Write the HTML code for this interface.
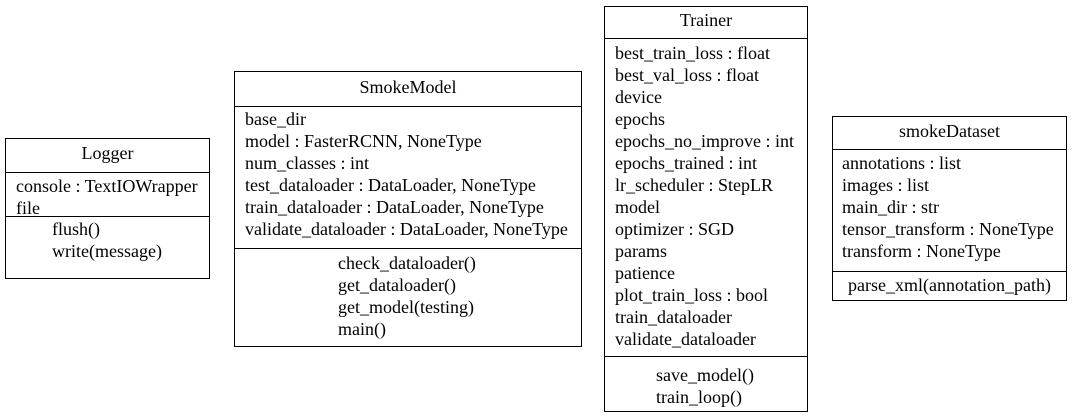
<!DOCTYPE html><html><head><style>
body{margin:0;width:1072px;height:418px;background:#fff;position:relative;font-family:"Liberation Serif","DejaVu Serif",serif;font-size:18px;color:#000;overflow:hidden}
.b{position:absolute;border:1px solid #000;box-sizing:border-box}
.h{position:absolute;height:1px;background:#000}
.t{position:absolute;height:22px;line-height:22px;white-space:nowrap;margin-top:-2px}
.c{text-align:center}
</style></head><body>
<!-- Logger -->
<div class="b" style="left:5px;top:138px;width:205px;height:141px"></div>
<div class="h" style="left:5px;top:172px;width:205px"></div>
<div class="h" style="left:5px;top:216px;width:205px"></div>
<div class="t c" style="left:5px;width:205px;top:144px">Logger</div>
<div class="t" style="left:16px;top:177px">console : TextIOWrapper</div>
<div class="t" style="left:16px;top:199px">file</div>
<div class="t" style="left:52px;top:220px">flush()</div>
<div class="t" style="left:52px;top:242px">write(message)</div>
<!-- SmokeModel -->
<div class="b" style="left:234px;top:71px;width:348px;height:276px"></div>
<div class="h" style="left:234px;top:106px;width:348px"></div>
<div class="h" style="left:234px;top:248px;width:348px"></div>
<div class="t c" style="left:234px;width:348px;top:78px">SmokeModel</div>
<div class="t" style="left:245px;top:110px">base_dir</div>
<div class="t" style="left:245px;top:132px">model : FasterRCNN, NoneType</div>
<div class="t" style="left:245px;top:154px">num_classes : int</div>
<div class="t" style="left:245px;top:176px">test_dataloader : DataLoader, NoneType</div>
<div class="t" style="left:245px;top:198px">train_dataloader : DataLoader, NoneType</div>
<div class="t" style="left:245px;top:220px">validate_dataloader : DataLoader, NoneType</div>
<div class="t" style="left:338px;top:254px">check_dataloader()</div>
<div class="t" style="left:338px;top:276px">get_dataloader()</div>
<div class="t" style="left:338px;top:298px">get_model(testing)</div>
<div class="t" style="left:338px;top:320px">main()</div>
<!-- Trainer -->
<div class="b" style="left:604px;top:6px;width:204px;height:406px"></div>
<div class="h" style="left:604px;top:38px;width:204px"></div>
<div class="h" style="left:604px;top:356px;width:204px"></div>
<div class="t c" style="left:604px;width:204px;top:11px">Trainer</div>
<div class="t" style="left:615px;top:44px">best_train_loss : float</div>
<div class="t" style="left:615px;top:66px">best_val_loss : float</div>
<div class="t" style="left:615px;top:88px">device</div>
<div class="t" style="left:615px;top:110px">epochs</div>
<div class="t" style="left:615px;top:132px">epochs_no_improve : int</div>
<div class="t" style="left:615px;top:154px">epochs_trained : int</div>
<div class="t" style="left:615px;top:176px">lr_scheduler : StepLR</div>
<div class="t" style="left:615px;top:198px">model</div>
<div class="t" style="left:615px;top:220px">optimizer : SGD</div>
<div class="t" style="left:615px;top:242px">params</div>
<div class="t" style="left:615px;top:264px">patience</div>
<div class="t" style="left:615px;top:286px">plot_train_loss : bool</div>
<div class="t" style="left:615px;top:308px">train_dataloader</div>
<div class="t" style="left:615px;top:330px">validate_dataloader</div>
<div class="t" style="left:656px;top:366px">save_model()</div>
<div class="t" style="left:656px;top:388px">train_loop()</div>
<!-- smokeDataset -->
<div class="b" style="left:832px;top:116px;width:235px;height:185px"></div>
<div class="h" style="left:832px;top:149px;width:235px"></div>
<div class="h" style="left:832px;top:271px;width:235px"></div>
<div class="t c" style="left:832px;width:235px;top:122px">smokeDataset</div>
<div class="t" style="left:842px;top:154px">annotations : list</div>
<div class="t" style="left:842px;top:176px">images : list</div>
<div class="t" style="left:842px;top:198px">main_dir : str</div>
<div class="t" style="left:842px;top:220px">tensor_transform : NoneType</div>
<div class="t" style="left:842px;top:242px">transform : NoneType</div>
<div class="t c" style="left:832px;width:235px;top:276px">parse_xml(annotation_path)</div>
</body></html>
